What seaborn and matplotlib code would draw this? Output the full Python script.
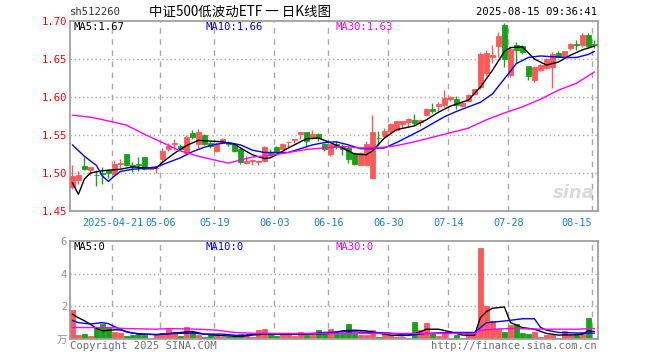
import numpy as np
import pandas as pd
import matplotlib
matplotlib.use('Agg')
import matplotlib.pyplot as plt
import seaborn as sns

sns.set_style('white')
plt.rcParams['font.family'] = ['DejaVu Sans Mono', 'Noto Sans CJK SC']

# daily candles, 2025-04-10 .. 2025-08-15
opens = [1.481, 1.4904, 1.5096, 1.5035, 1.498, 1.499, 1.5039, 1.4987, 1.512, 1.5248,
         1.5095, 1.512, 1.5213, 1.5052, 1.506, 1.5187, 1.5313, 1.538, 1.5361, 1.526,
         1.552, 1.5385, 1.5496, 1.540, 1.5288, 1.5411, 1.540, 1.5376, 1.532, 1.5133,
         1.516, 1.5145, 1.5155, 1.528, 1.534, 1.532, 1.5405, 1.544, 1.5509, 1.5535,
         1.5465, 1.551, 1.5385, 1.525, 1.5388, 1.5344, 1.533, 1.5266, 1.5105, 1.5105,
         1.4939, 1.5465, 1.5484, 1.555, 1.5562, 1.565, 1.5667, 1.5693, 1.5671, 1.5767,
         1.5841, 1.5876, 1.5898, 1.597, 1.5976, 1.5876, 1.5943, 1.6043, 1.613, 1.6316,
         1.6526, 1.6675, 1.695, 1.629, 1.668, 1.6667, 1.6404, 1.6224, 1.6355, 1.6382,
         1.640, 1.6579, 1.654, 1.664, 1.670, 1.6684, 1.6816, 1.670]
highs = [1.511, 1.503, 1.5204, 1.508, 1.504, 1.508, 1.505, 1.517, 1.519, 1.525,
         1.515, 1.521, 1.5215, 1.507, 1.509, 1.5326, 1.539, 1.5448, 1.538, 1.550,
         1.556, 1.558, 1.551, 1.542, 1.539, 1.546, 1.542, 1.539, 1.533, 1.522,
         1.518, 1.517, 1.5355, 1.531, 1.535, 1.539, 1.5415, 1.5445, 1.5545, 1.554,
         1.556, 1.552, 1.540, 1.540, 1.542, 1.538, 1.535, 1.527, 1.5275, 1.542,
         1.5767, 1.555, 1.559, 1.566, 1.569, 1.568, 1.572, 1.577, 1.571, 1.585,
         1.592, 1.594, 1.609, 1.601, 1.601, 1.593, 1.6045, 1.611, 1.659, 1.662,
         1.668, 1.685, 1.697, 1.666, 1.673, 1.669, 1.641, 1.641, 1.644, 1.6515,
         1.659, 1.660, 1.661, 1.671, 1.675, 1.684, 1.684, 1.675]
lows = [1.479, 1.485, 1.504, 1.498, 1.4826, 1.485, 1.493, 1.496, 1.507, 1.509,
        1.501, 1.502, 1.504, 1.504, 1.500, 1.5143, 1.529, 1.530, 1.529, 1.524,
        1.545, 1.533, 1.537, 1.533, 1.527, 1.539, 1.536, 1.528, 1.512, 1.512,
        1.510, 1.511, 1.515, 1.522, 1.525, 1.531, 1.533, 1.540, 1.545, 1.5345,
        1.545, 1.542, 1.529, 1.523, 1.532, 1.524, 1.5135, 1.510, 1.510, 1.509,
        1.493, 1.536, 1.546, 1.553, 1.555, 1.5593, 1.5615, 1.5636, 1.5615, 1.5755,
        1.579, 1.5815, 1.5875, 1.5945, 1.5845, 1.587, 1.593, 1.603, 1.610, 1.628,
        1.645, 1.653, 1.640, 1.626, 1.645, 1.657, 1.6228, 1.620, 1.634, 1.637,
        1.612, 1.652, 1.653, 1.662, 1.662, 1.666, 1.665, 1.664]
closes = [1.4965, 1.4978, 1.5052, 1.5074, 1.497, 1.4985, 1.4996, 1.5117, 1.513, 1.5109,
          1.509, 1.511, 1.5057, 1.5065, 1.507, 1.5291, 1.5361, 1.539, 1.5317, 1.547,
          1.547, 1.5545, 1.5376, 1.5354, 1.5376, 1.545, 1.538, 1.529, 1.514, 1.5164,
          1.517, 1.5155, 1.5345, 1.525, 1.5288, 1.5376, 1.541, 1.545, 1.5535, 1.542,
          1.551, 1.5456, 1.531, 1.5376, 1.5344, 1.531, 1.518, 1.512, 1.5266, 1.5388,
          1.5536, 1.5455, 1.5558, 1.565, 1.568, 1.568, 1.571, 1.5658, 1.5702, 1.5841,
          1.581, 1.591, 1.5985, 1.5998, 1.5898, 1.592, 1.603, 1.610, 1.656, 1.658,
          1.6557, 1.6798, 1.650, 1.663, 1.662, 1.6588, 1.6272, 1.6399, 1.6425, 1.650,
          1.657, 1.6531, 1.660, 1.6697, 1.668, 1.6816, 1.6667, 1.668]
volumes = [1.76, 0.24, 0.30, 0.18, 0.76, 0.90, 0.68, 0.42, 0.36, 0.20,
           0.26, 0.32, 0.26, 0.08, 0.32, 0.36, 0.64, 0.40, 0.18, 0.72,
           0.44, 0.24, 0.12, 0.30, 0.20, 0.14, 0.14, 0.16, 0.28, 0.16,
           0.14, 0.56, 0.64, 0.28, 0.20, 0.28, 0.28, 0.18, 0.40, 0.24,
           0.24, 0.56, 0.40, 0.60, 0.36, 0.34, 0.90, 0.30, 0.24, 0.26,
           0.54, 0.14, 0.34, 0.24, 0.14, 0.14, 0.06, 1.02, 0.54, 0.96,
           0.38, 0.20, 0.34, 0.08, 0.24, 0.06, 0.30, 0.34, 5.60, 2.04,
           1.10, 0.64, 0.44, 0.84, 0.90, 0.36, 0.30, 0.42, 0.14, 0.24,
           0.26, 0.06, 0.50, 0.24, 0.24, 0.40, 1.26, 0.06]

# moving averages (day index, value)
ma5_k = [0, 1, 2, 3, 5, 8, 10, 12, 14, 15, 17, 19, 21, 23, 25, 27, 28, 30, 32, 33,
         34, 36, 38, 39, 41, 43, 45, 47, 49, 50, 52, 54, 57, 59, 61, 63, 66, 68, 70, 72,
         73, 75, 77, 79, 81, 83, 85, 87]
ma5_v = [1.487, 1.472, 1.492, 1.500, 1.503, 1.505, 1.508, 1.507, 1.5065, 1.514,
         1.526, 1.536, 1.543, 1.542, 1.541, 1.538, 1.533, 1.524, 1.519, 1.520,
         1.524, 1.533, 1.541, 1.545, 1.546, 1.540, 1.533, 1.525, 1.524, 1.529,
         1.546, 1.557, 1.562, 1.570, 1.580, 1.588, 1.596, 1.613, 1.635, 1.660,
         1.665, 1.666, 1.650, 1.642, 1.646, 1.655, 1.662, 1.667]
ma10_k = [0, 2, 4, 5, 6, 7, 8, 10, 12, 14, 16, 18, 20, 22, 24, 26, 28, 30, 32, 34,
          36, 38, 40, 42, 44, 46, 48, 50, 52, 54, 56, 58, 60, 62, 64, 66, 68, 70, 72, 74,
          76, 78, 80, 82, 84, 86, 87]
ma10_v = [1.537, 1.522, 1.510, 1.496, 1.489, 1.496, 1.502, 1.505, 1.506, 1.508,
          1.514, 1.520, 1.528, 1.534, 1.538, 1.540, 1.537, 1.530, 1.527, 1.527,
          1.527, 1.532, 1.537, 1.540, 1.541, 1.537, 1.532, 1.532, 1.533, 1.540,
          1.548, 1.556, 1.565, 1.574, 1.581, 1.587, 1.593, 1.604, 1.624, 1.644,
          1.652, 1.654, 1.653, 1.652, 1.652, 1.656, 1.660]
ma30_k = [0, 3, 6, 9, 12, 15, 18, 21, 24, 26, 28, 30, 33, 36, 39, 42, 45, 48, 51, 54,
          57, 60, 63, 66, 69, 72, 75, 78, 81, 84, 87]
ma30_v = [1.576, 1.5735, 1.5685, 1.563, 1.551, 1.540, 1.529, 1.522, 1.5165, 1.513,
          1.517, 1.521, 1.523, 1.527, 1.531, 1.533, 1.535, 1.533, 1.533, 1.536,
          1.541, 1.547, 1.553, 1.559, 1.570, 1.579, 1.587, 1.597, 1.609, 1.618, 1.633]

vma5_k = [0, 1, 2, 3, 4, 5, 7, 8, 9, 10, 12, 14, 16, 18, 20, 22, 25, 28, 30, 32,
          36, 40, 43, 45, 47, 49, 51, 53, 55, 57, 59, 61, 63, 65, 67, 68, 69, 70, 72, 73,
          75, 77, 79, 81, 84, 85, 86, 87]
vma5_v = [1.52, 1.30, 1.12, 0.90, 0.65, 0.50, 0.56, 0.56, 0.45, 0.36, 0.30, 0.26,
          0.32, 0.40, 0.46, 0.30, 0.20, 0.16, 0.24, 0.30, 0.30, 0.30, 0.34, 0.50,
          0.54, 0.50, 0.36, 0.24, 0.20, 0.30, 0.60, 0.60, 0.44, 0.24, 0.22, 1.31,
          1.67, 1.88, 1.96, 1.01, 0.70, 0.60, 0.34, 0.24, 0.26, 0.30, 0.50, 0.46]
vma10_k = [0, 1, 3, 5, 6, 7, 9, 11, 14, 17, 20, 22, 25, 28, 30, 32, 36, 40, 42, 46,
           50, 53, 56, 59, 63, 67, 68, 69, 72, 75, 77, 78, 79, 81, 85, 87]
vma10_v = [1.14, 1.00, 0.92, 1.00, 0.94, 0.76, 0.44, 0.30, 0.28, 0.34, 0.36, 0.30,
           0.30, 0.20, 0.30, 0.34, 0.30, 0.34, 0.40, 0.45, 0.40, 0.36, 0.22, 0.34,
           0.40, 0.40, 0.70, 1.00, 1.10, 1.24, 1.24, 0.72, 0.54, 0.40, 0.36, 0.36]
vma30_k = [0, 6, 9, 14, 16, 21, 24, 27, 31, 67, 68, 70, 73, 79, 84, 87]
vma30_v = [0.70, 0.70, 0.64, 0.60, 0.64, 0.60, 0.54, 0.40, 0.34, 0.34, 0.52, 0.60,
           0.64, 0.60, 0.60, 0.64]

date_ticks = [7, 15, 24, 34, 43, 53, 63, 73, 87]
date_labels = ['2025-04-21', '05-06', '05-19', '06-03', '06-16', '06-30',
               '07-14', '07-28', '08-15']
price_ticks = [1.45, 1.50, 1.55, 1.60, 1.65, 1.70]
vol_ticks = [0, 2, 4, 6]
vol_labels = ['万', '2', '4', '6']

RED = '#ff5858'
GREEN = '#17a317'
FRAME = '#a0a0a0'

df = pd.DataFrame({'open': opens, 'high': highs, 'low': lows,
                   'close': closes, 'vol': volumes})
df['k'] = np.arange(len(df))
df['color'] = np.where(df['close'] >= df['open'], RED, GREEN)

W, H = 660, 360
fig = plt.figure(figsize=(W / 100, H / 100), dpi=100)
ax = fig.add_axes([70 / W, 1 - 211 / H, 528 / W, 190 / H])
axv = fig.add_axes([70 / W, 1 - 339 / H, 528 / W, 98 / H])

for a in (ax, axv):
    a.set_xlim(-0.4, 87.6)
    for s in a.spines.values():
        s.set_color(FRAME)
        s.set_linewidth(1.3)
    for t in date_ticks:
        a.axvline(t - 0.33, color='#a8a8a8', ls=(0, (4, 4)), lw=1, zorder=0)

# candles
ax.vlines(df['k'], df['low'], df['high'], colors=df['color'], lw=1, zorder=2)
body = (df['close'] - df['open']).abs().clip(lower=0.0009)
ax.bar(df['k'], body, bottom=df[['open', 'close']].min(axis=1),
       width=0.75, color=df['color'], edgecolor=df['color'], linewidth=0.6, zorder=3)

sns.lineplot(x=ma5_k, y=ma5_v, ax=ax, color='black', lw=1, zorder=4)
sns.lineplot(x=ma10_k, y=ma10_v, ax=ax, color='#0000ff', lw=1, zorder=4)
sns.lineplot(x=ma30_k, y=ma30_v, ax=ax, color='#ff00ff', lw=1, zorder=4)

for y in price_ticks[1:-1]:
    ax.axhline(y, color='#a8a8a8', ls=(0, (1, 2)), lw=1, zorder=0)
ax.set_ylim(1.45, 1.70)
ax.set_yticks(price_ticks)
ax.set_yticklabels([f'{p:.2f}' for p in price_ticks])
ax.tick_params(axis='y', length=0, pad=2, labelcolor='red', labelsize=7.6)
ax.set_xticks([t - 0.33 for t in date_ticks])
ax.set_xticklabels(date_labels)
ax.tick_params(axis='x', length=0, pad=5, labelcolor='#1b7fd0', labelsize=7.4)
ax.get_xticklabels()[-1].set_ha('right')
ax.set_xlabel('')
ax.set_ylabel('')

ax.text(83.6, 1.474, 'sina', fontsize=13, style='italic', weight='bold',
        color='#dadada', ha='center', va='center', family='DejaVu Sans', zorder=1)

# volume
axv.bar(df['k'], df['vol'], width=0.75, color=df['color'], edgecolor=df['color'],
        linewidth=0.6, zorder=2)
sns.lineplot(x=vma5_k, y=vma5_v, ax=axv, color='black', lw=1, zorder=4)
sns.lineplot(x=vma10_k, y=vma10_v, ax=axv, color='#0000ff', lw=1, zorder=4)
sns.lineplot(x=vma30_k, y=vma30_v, ax=axv, color='#ff00ff', lw=1, zorder=4)
for y in (2, 4):
    axv.axhline(y, color='#a8a8a8', ls=(0, (1, 2)), lw=1, zorder=0)
axv.set_ylim(0, 6)
axv.set_yticks(vol_ticks)
axv.set_yticklabels(vol_labels)
axv.tick_params(axis='y', length=0, pad=2, labelcolor='#909090', labelsize=7.6)
axv.set_xticks([])
axv.set_xlabel('')
axv.set_ylabel('')


def px(x, y):
    return x / W, 1 - y / H


mono = dict(fontsize=7.6, va='center')
fig.text(*px(70, 12), 'sh512260', ha='left', color='#333333', **mono)
fig.text(*px(597, 12), '2025-08-15 09:36:41', ha='right', color='black', **mono)
fig.text(*px(240, 12), '中证500低波动ETF 一 日K线图', ha='center', va='center',
         fontsize=9.7, family=['Noto Sans CJK SC', 'DejaVu Sans'], color='black')

fig.text(*px(74, 27), 'MA5:1.67', ha='left', color='black', **mono)
fig.text(*px(205, 27), 'MA10:1.66', ha='left', color='#0000ff', **mono)
fig.text(*px(335, 27), 'MA30:1.63', ha='left', color='#ff00ff', **mono)
fig.text(*px(74, 247), 'MA5:0', ha='left', color='black', **mono)
fig.text(*px(205, 247), 'MA10:0', ha='left', color='#0000ff', **mono)
fig.text(*px(335, 247), 'MA30:0', ha='left', color='#ff00ff', **mono)

fig.text(*px(70, 346), 'Copyright 2025 SINA.COM', ha='left', color='#707070', **mono)
fig.text(*px(597, 346), 'http://finance.sina.com.cn', ha='right', color='#707070', **mono)

fig.savefig('out.png', dpi=100)
